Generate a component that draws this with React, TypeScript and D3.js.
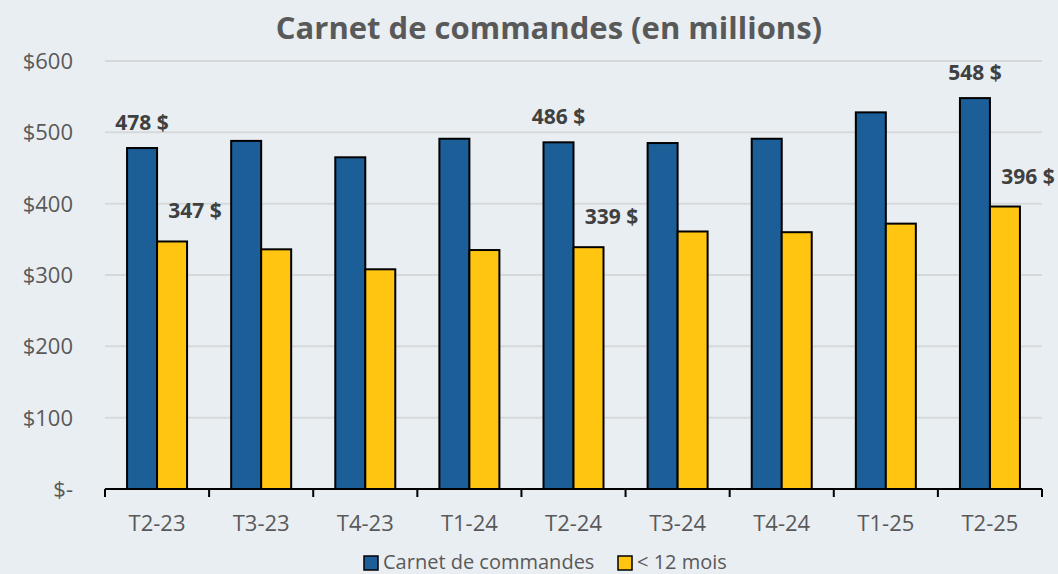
import * as d3 from "d3";

const quarters = ["T2-23", "T3-23", "T4-23", "T1-24", "T2-24", "T3-24", "T4-24", "T1-25", "T2-25"];
const backlog = [478, 488, 465, 491, 486, 485, 491, 528, 548];
const underYear = [347, 336, 308, 335, 339, 361, 360, 372, 396];
const seriesNames = ["Carnet de commandes", "< 12 mois"];
const yTicks = [0, 100, 200, 300, 400, 500, 600];
// which bars carry a value label
const labelled = ["T2-23", "T2-24", "T2-25"];

const W = 1058;
const H = 574;
const pad = { top: 61, right: 16, bottom: 85, left: 105 };
const colors = ["#1B5E98", "#FFC511"];
const font = "'Open Sans', sans-serif";
const grey = "#595959";

export default function App() {
  const x = d3.scaleBand().domain(quarters).range([pad.left, W - pad.right]).padding(0);
  const inner = d3
    .scaleBand()
    .domain(seriesNames)
    .range([x.bandwidth() / 2 - 30, x.bandwidth() / 2 + 30]);
  const y = d3.scaleLinear().domain([0, 600]).range([H - pad.bottom, pad.top]);

  const rows = quarters.map((q, i) => ({ q, vals: [backlog[i], underYear[i]] }));
  const fmt = (v: number) => (v === 0 ? "$-" : `$${v}`);
  const base = y(0);

  return (
    <svg
      width={W}
      height={H}
      style={{ position: "absolute", left: 0, top: 0, display: "block", background: "#E9EEF2" }}
      fontFamily={font}
    >
      <text x={549} y={39} textAnchor="middle" fontSize="31" fontWeight="700" fill={grey}>
        Carnet de commandes (en millions)
      </text>

      {yTicks.map((t) => (
        <g key={t}>
          {t > 0 && (
            <line x1={pad.left} x2={W - pad.right} y1={y(t)} y2={y(t)} stroke="#D6D9DC" strokeWidth="2" />
          )}
          <text x={73} y={y(t) + 8} textAnchor="end" fontSize="22" fill={grey}>
            {fmt(t)}
          </text>
        </g>
      ))}

      {rows.map((r) => (
        <g key={r.q} transform={`translate(${x(r.q)},0)`}>
          {r.vals.map((v, j) => (
            <rect
              key={j}
              x={inner(seriesNames[j])}
              y={y(v)}
              width={inner.bandwidth()}
              height={base - y(v)}
              fill={colors[j]}
              stroke="#000"
              strokeWidth="2"
            />
          ))}
        </g>
      ))}

      {/* axis line and ticks */}
      <line x1={pad.left} x2={W - pad.right} y1={base} y2={base} stroke="#000" strokeWidth="2" />
      {d3.range(quarters.length + 1).map((i) => {
        const xp = pad.left + i * x.step();
        return <line key={i} x1={xp} x2={xp} y1={base} y2={base + 8} stroke="#000" strokeWidth="2" />;
      })}
      {quarters.map((q) => (
        <text key={q} x={(x(q) ?? 0) + x.bandwidth() / 2} y={531} textAnchor="middle" fontSize="22" fill={grey}>
          {q}
        </text>
      ))}

      {rows
        .filter((r) => labelled.includes(r.q))
        .map((r) => {
          const x0 = x(r.q) ?? 0;
          const bx = x0 + (inner(seriesNames[0]) ?? 0) + inner.bandwidth() / 2;
          const yx = x0 + (inner(seriesNames[1]) ?? 0) + inner.bandwidth() / 2;
          return (
            <g key={r.q} fontSize="21" fontWeight="700" fill="#404040" textAnchor="middle">
              <text x={bx} y={y(r.vals[0]) - 18}>{`${r.vals[0]} $`}</text>
              <text x={yx + 23} y={y(r.vals[1]) - 23}>{`${r.vals[1]} $`}</text>
            </g>
          );
        })}

      <g transform="translate(364,555)" fontSize="20" fill={grey}>
        <rect x={0} y={1} width={14} height={14} fill={colors[0]} stroke="#000" strokeWidth="1.5" />
        <text x={19} y={14}>{seriesNames[0]}</text>
        <rect x={254} y={1} width={14} height={14} fill={colors[1]} stroke="#000" strokeWidth="1.5" />
        <text x={273} y={14}>{seriesNames[1]}</text>
      </g>
    </svg>
  );
}
